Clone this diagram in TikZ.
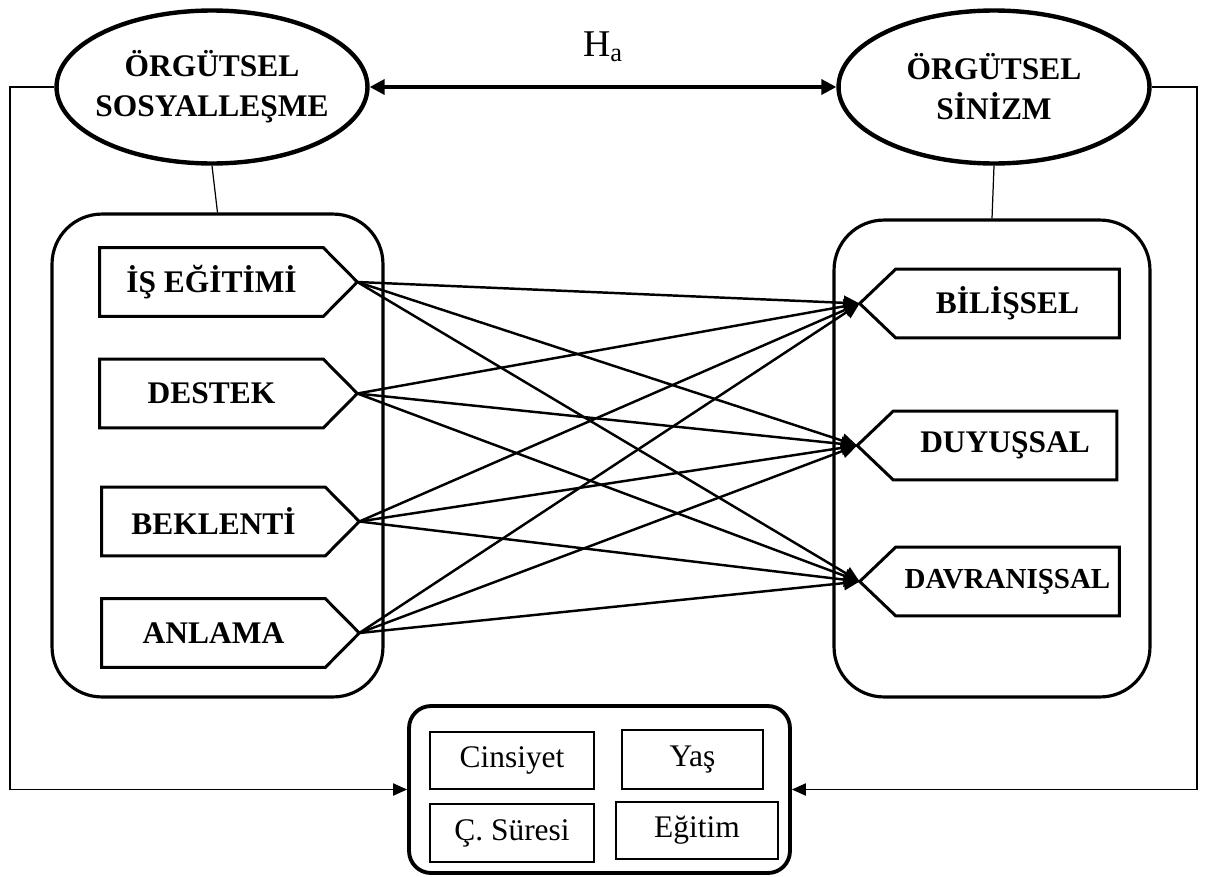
\documentclass[tikz,border=0pt]{standalone}
\usepackage{fontspec}
\setmainfont{Liberation Serif}
\usetikzlibrary{shapes.geometric,arrows.meta}

\begin{document}
\begin{tikzpicture}[x=0.02cm, y=-0.02cm,
    oval/.style={draw, ellipse, line width=2.5pt, inner sep=0pt, minimum width=6.22cm, minimum height=3.06cm},
    ovaltext/.style={align=center, font=\fontsize{17.9}{22.7}\selectfont\bfseries},
    group/.style={draw, rounded corners=1cm, line width=1.8pt, inner sep=0pt},
    dimbox/.style={minimum width=4.46cm, minimum height=1.36cm, inner sep=0pt, font=\fontsize{17.9}{21}\selectfont\bfseries},
    pentline/.style={line width=1.7pt, line join=miter},
    demo/.style={draw, line width=0.7pt, inner sep=0pt, font=\fontsize{17.9}{21}\selectfont},
    link/.style={line width=1.4pt, -{Triangle[length=9pt,width=8pt]}},
    thin/.style={line width=0.7pt}
]
    \useasboundingbox (0,0) rectangle (1213,876);

    % the two concepts
    \node[oval] (sosyal) at (212,87) {};
    \node[ovaltext] (sosyal-t) at (sosyal) {ÖRGÜTSEL\\SOSYALLEŞME};
    \node[oval] (sinizm) at (994,87) {};
    \node[ovaltext] (sinizm-t) at (sinizm) {ÖRGÜTSEL\\SİNİZM};
    \draw[line width=2pt, {Triangle[length=8.5pt,width=8.5pt]}-{Triangle[length=8.5pt,width=8.5pt]}]
        (sosyal.east) -- (sinizm.west);
    \node[font=\fontsize{21.5}{24}\selectfont] (ha) at (603,47) {H\textsubscript{a}};

    % dimension groups
    \node[group, minimum width=6.62cm, minimum height=9.66cm] (sosgroup) at (217.5,455.5) {};
    \node[group, minimum width=6.32cm, minimum height=9.54cm] (singroup) at (992,458.5) {};
    \draw[thin] (sosyal.south) -- (sosgroup.north);
    \draw[thin] (sinizm.south) -- (singroup.north);

    \node[dimbox] (isegitimi) at (211.5,282) {İŞ EĞİTİMİ};
    \node[dimbox] (destek) at (211.5,393.5) {DESTEK};
    \node[dimbox] (beklenti) at (213.5,521.5) {BEKLENTİ};
    \node[dimbox] (anlama) at (213.5,633) {ANLAMA};
    \foreach \n in {isegitimi,destek,beklenti,anlama}
        \draw[pentline] (\n.north west) -- (\n.north east) -- ([xshift=0.68cm]\n.east) coordinate (\n-tip)
            -- (\n.south east) -- (\n.south west) -- cycle;

    \node[dimbox] (bilissel) at (1007.5,303.5) {BİLİŞSEL};
    \node[dimbox] (duyussal) at (1005,445.5) {DUYUŞSAL};
    \node[dimbox, font=\fontsize{16.5}{20}\selectfont\bfseries] (davranissal) at (1007.5,581.5) {DAVRANIŞSAL};
    \foreach \n in {bilissel,duyussal,davranissal}
        \draw[pentline] (\n.north east) -- (\n.north west) -- ([xshift=-0.72cm]\n.west) coordinate (\n-tip)
            -- (\n.south west) -- (\n.south east) -- cycle;

    \foreach \s in {isegitimi,destek,beklenti,anlama}
        \foreach \t in {bilissel,duyussal,davranissal}
            \draw[link] (\s-tip) -- (\t-tip);

    % control variables
    \node[draw, rounded corners=0.44cm, line width=2.2pt, minimum width=7.62cm, minimum height=3.34cm] (demobox) at (599.5,789.5) {};
    \node[demo, minimum width=3.28cm, minimum height=1.14cm] (cinsiyet) at (512,760.5) {Cinsiyet};
    \node[demo, minimum width=2.82cm, minimum height=1.18cm] (yas) at (692.5,759.5) {Yaş};
    \node[demo, minimum width=3.28cm, minimum height=1.16cm] (suresi) at (512,833) {Ç. Süresi};
    \node[demo, minimum width=3.24cm, minimum height=1.14cm] (egitim) at (697,830.5) {Eğitim};

    \coordinate (lrail) at (10,87);
    \coordinate (rrail) at (1197,87);
    \draw[thin, -{Triangle[length=8pt,width=7pt]}] (sosyal.west) -- (lrail) |- (demobox.west);
    \draw[thin, -{Triangle[length=8pt,width=7pt]}] (sinizm.east) -- (rrail) |- (demobox.east);
\end{tikzpicture}
\end{document}
